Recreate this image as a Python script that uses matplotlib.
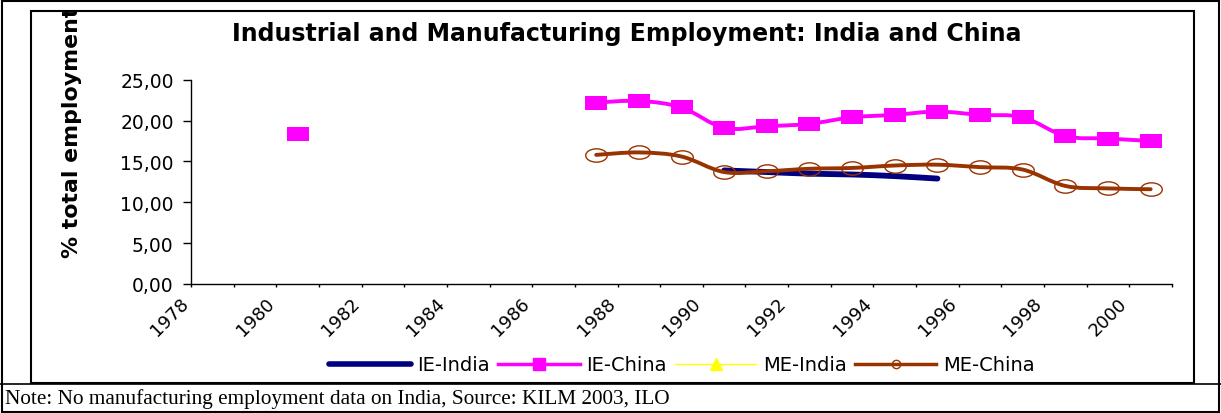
import matplotlib
matplotlib.use('Agg')
import matplotlib.pyplot as plt
import numpy as np
from matplotlib.path import Path
from matplotlib.patches import PathPatch, Rectangle
from matplotlib.lines import Line2D
from matplotlib.transforms import Bbox, TransformedBbox, ScaledTranslation

W, H = 1221, 414

# % of total employment, KILM 2003
ie_india_years = [1990, 1991, 1992, 1993, 1994, 1995]
ie_india = [13.9, 13.7, 13.5, 13.4, 13.2, 12.9]

ie_china_years = [1980, 1987, 1988, 1989, 1990, 1991, 1992, 1993, 1994,
                  1995, 1996, 1997, 1998, 1999, 2000]
ie_china = [18.3, 22.2, 22.4, 21.6, 19.1, 19.3, 19.6, 20.4, 20.7,
            21.1, 20.7, 20.4, 18.1, 17.8, 17.5]

me_india_years = []
me_india = []

me_china_years = [1987, 1988, 1989, 1990, 1991, 1992, 1993, 1994,
                  1995, 1996, 1997, 1998, 1999, 2000]
me_china = [15.8, 16.1, 15.6, 13.7, 13.8, 14.1, 14.2, 14.5,
            14.6, 14.3, 14.0, 12.0, 11.7, 11.6]

year_ticks = list(range(1978, 2002))
year_labels = [str(y) if y % 2 == 0 and y <= 2000 else '' for y in year_ticks]
y_ticks = [0, 5, 10, 15, 20, 25]

NAVY = '#000080'
PINK = '#FF00FF'
YELLOW = '#FFFF00'
BROWN = '#993300'

# wide rectangle and flat ellipse markers
rect_marker = Path([(-1.5, -1), (1.5, -1), (1.5, 1), (-1.5, 1), (-1.5, -1)],
                   [Path.MOVETO, Path.LINETO, Path.LINETO, Path.LINETO, Path.CLOSEPOLY])
circ = Path.unit_circle()
ellipse_marker = Path(circ.vertices * [1.0, 0.62], circ.codes)


def smooth_path(x, y):
    # Catmull-Rom style bezier through consecutive points
    pts = np.column_stack([x, y]).astype(float)
    verts = [pts[0]]
    codes = [Path.MOVETO]
    n = len(pts)
    for i in range(n - 1):
        p0 = pts[max(i - 1, 0)]
        p1 = pts[i]
        p2 = pts[i + 1]
        p3 = pts[min(i + 2, n - 1)]
        verts += [p1 + (p2 - p0) / 6, p2 - (p3 - p1) / 6, p2]
        codes += [Path.CURVE4] * 3
    return Path(verts, codes)


def draw_series(ax, years, values, color, lw, z):
    # split into runs of consecutive years, one smooth curve per run
    years = list(years)
    start = 0
    for i in range(1, len(years) + 1):
        if i == len(years) or years[i] != years[i - 1] + 1:
            if i - start > 1:
                xs = np.array(years[start:i]) + 0.5
                ys = values[start:i]
                ax.add_patch(PathPatch(smooth_path(xs, ys), fill=False, edgecolor=color,
                                       lw=lw, capstyle='round', joinstyle='round', zorder=z))
            start = i


fig = plt.figure(figsize=(W / 100, H / 100), dpi=100)
ax = fig.add_axes([191 / W, 1 - 285 / H, 981 / W, 204.3 / H])

draw_series(ax, ie_india_years, ie_india, NAVY, 4.2, 2.0)
draw_series(ax, ie_china_years, ie_china, PINK, 2.8, 2.1)
ax.plot(np.array(ie_china_years) + 0.5, ie_china, ls='none', marker=rect_marker,
        ms=16, mfc=PINK, mec=PINK, mew=0, zorder=2.2)
draw_series(ax, me_china_years, me_china, BROWN, 2.8, 2.3)
ax.plot(np.array(me_china_years) + 0.5, me_china, ls='none', marker=ellipse_marker,
        ms=15.5, mfc='none', mec=BROWN, mew=1.0, zorder=2.4)

ax.set_xlim(1978, 2001)
ax.set_ylim(0, 25)
ax.spines[['top', 'right']].set_visible(False)
for s in ('left', 'bottom'):
    ax.spines[s].set_linewidth(1.0)

ax.set_yticks(y_ticks)
ax.yaxis.set_major_formatter(lambda v, pos: f'{v:.2f}'.replace('.', ','))
ax.tick_params(axis='y', direction='out', length=5.5, width=1, labelsize=13.5, pad=7)

ax.set_xticks(year_ticks)
ax.set_xticklabels(year_labels, rotation=45, ha='right', va='center',
                   rotation_mode='anchor', fontsize=13)
ax.tick_params(axis='x', direction='out', length=2.5, width=1, pad=9)
shift = ScaledTranslation(-5 / 100, 0, fig.dpi_scale_trans)
for lab in ax.get_xticklabels():
    lab.set_transform(lab.get_transform() + shift)

fig.text(627 / W, 1 - 34 / H, 'Industrial and Manufacturing Employment: India and China',
         ha='center', va='center', fontsize=17, fontweight='bold')

# chart area border and table cell borders
chart_box = Bbox.from_extents(31 / W, 1 - 384 / H, 1194 / W, 1 - 12 / H)
fig.add_artist(Rectangle((chart_box.x0, chart_box.y0), chart_box.width, chart_box.height,
                         transform=fig.transFigure, fill=False, ec='black', lw=1.5))
fig.add_artist(Rectangle((2 / W, 1 - 413 / H), 1217 / W, 411 / H,
                         transform=fig.transFigure, fill=False, ec='black', lw=1.5))
fig.add_artist(Line2D([0, 1], [1 - 385 / H, 1 - 385 / H], transform=fig.transFigure,
                      color='black', lw=1.2))

ylab = fig.text(72 / W, 1 - 258 / H, '% total employment', rotation=90,
                ha='center', va='bottom', fontsize=15.8, fontweight='bold')
ylab.set_clip_box(TransformedBbox(chart_box, fig.transFigure))

handles = [
    Line2D([], [], color=NAVY, lw=4, solid_capstyle='round'),
    Line2D([], [], color=PINK, lw=2.5, marker='s', ms=8, mec=PINK),
    Line2D([], [], color=YELLOW, lw=1, marker='^', ms=8, mec=YELLOW),
    Line2D([], [], color=BROWN, lw=2.5, marker='o', ms=6, mfc='none', mec=BROWN, mew=1),
]
fig.legend(handles, ['IE-India', 'IE-China', 'ME-India', 'ME-China'],
           loc='center', bbox_to_anchor=(682 / W, 1 - 366 / H), ncol=4, frameon=False,
           fontsize=14, handlelength=4.2, handletextpad=0.35, columnspacing=0.4,
           borderpad=0)

fig.text(5 / W, 1 - 399 / H,
         'Note: No manufacturing employment data on India, Source: KILM 2003, ILO',
         ha='left', va='center', fontsize=15.3, family='Liberation Serif')

fig.savefig('out.png', dpi=100)
